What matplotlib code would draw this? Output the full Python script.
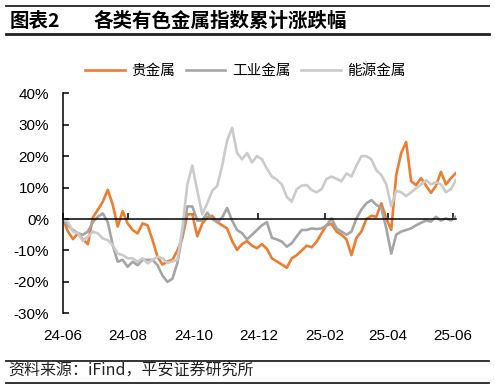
import matplotlib
matplotlib.use("Agg")
import matplotlib.pyplot as plt
import matplotlib.dates as mdates
from matplotlib.lines import Line2D
from matplotlib.ticker import FuncFormatter
import pandas as pd

plt.rcParams['font.family'] = ['Noto Sans CJK SC', 'DejaVu Sans']
plt.rcParams['axes.unicode_minus'] = False

# ---------------- data ----------------
start_date = "2024-06-01"
end_date = "2025-06-04"
n_points = 80

precious = [0, -4, -6.4, -4.6, -6.5, -8, 0.5, 2.9, 5.5, 9.3,
            4.5, -2.4, 2.5, -1.4, -3.5, -4.6, -1.4, -2, -6.7, -12,
            -14.5, -13.5, -13, -10, -6, 1.5, 1.5, -5.5, -1.5, 0.5,
            1, -1, -2, -3, -7, -9.8, -8, -7, -8.5, -9.3,
            -8, -9.5, -12.5, -13.5, -14.5, -15.5, -12.5, -11.5, -10, -8.5,
            -9, -7.2, -4.5, -2, -1.5, -4, -5, -6.5, -11.5, -6,
            -4, 0, 1, 0.7, 5, 0.2, -3.5, 14, 21, 24.5,
            12, 10.8, 13, 10.6, 8.3, 10.6, 15, 11, 13, 14.6]

industrial = [0, -2, -3.5, -4.5, -5, -4, -1, 0.7, 1.8, -1,
              -8.3, -13.6, -13, -15.2, -13.6, -14.7, -13, -13, -13, -14.7,
              -18, -20, -19, -14, -5, 4, 4, -0.5, -0.5, 2,
              0, -1, 0.5, 3.5, -0.5, -3.5, -4.5, -6.5, -5, -3.5,
              -2, -1, -6, -6.5, -7.2, -8.8, -7.7, -5.5, -3.5, -3.5,
              -3, -3.2, -3, -2, 0.2, -3, -4, -5, -4, 0.2,
              3, 5, 6, 4.5, 3.5, -3, -11, -5, -4, -3.5,
              -3, -2, -1.2, -0.5, -0.8, 0.7, -0.5, 0.2, -0.5, 0.7]

energy = [0, -1, -4, -4.5, -7, -5.6, -4, -4.6, -6.2, -6.7,
          -8.3, -11, -11.5, -12.5, -12.5, -13.6, -12.5, -14.1, -13, -12,
          -12.5, -14, -13.5, -13, -3, 11, 17, 9, 1.5, 5,
          9, 10.5, 17, 25, 29, 21, 19, 21, 18, 20,
          19, 16, 13.5, 12.5, 11, 7, 5.5, 9.5, 10.6, 10.8,
          9.2, 8.5, 9.5, 12.8, 13.5, 12.8, 12, 14.5, 13.5, 17,
          20, 20, 19, 15.5, 14, 11, 4, 9, 8.5, 7.3,
          8.5, 9.8, 11, 12.3, 11, 11.7, 11, 8.5, 9.5, 12.4]

series_names = ["贵金属", "工业金属", "能源金属"]
series_colors = ["#ED7D31", "#A5A5A5", "#CBCBCB"]
xtick_dates = ["2024-06-01", "2024-08-01", "2024-10-01", "2024-12-01",
               "2025-02-01", "2025-04-01", "2025-06-01"]
yticks = [-30, -20, -10, 0, 10, 20, 30, 40]

title_num = "图表2"
title_text = "各类有色金属指数累计涨跌幅"
source_text = "资料来源：iFind，平安证券研究所"

# ---------------- figure ----------------
dates = pd.date_range(start_date, end_date, periods=n_points)
fig = plt.figure(figsize=(4.95, 3.9), dpi=100)
ax = fig.add_axes([0.1273, 0.1967, 0.921 - 0.1273, 0.7608 - 0.1967])

for vals, name, col in zip([precious, industrial, energy], series_names, series_colors):
    ax.plot(dates, vals, color=col, lw=1.9, label=name, solid_joinstyle='round')

ax.set_ylim(-30, 40)
ax.set_xlim(pd.Timestamp(start_date), pd.Timestamp(end_date))
ax.set_yticks(yticks)
ax.yaxis.set_major_formatter(FuncFormatter(lambda v, p: f"{int(v)}%"))
ax.tick_params(axis='y', direction='in', length=4, width=1.1, pad=10,
               labelsize=11, labelfontfamily='Liberation Sans')

for s in ['top', 'right']:
    ax.spines[s].set_visible(False)
ax.spines['left'].set_linewidth(1.1)
ax.spines['bottom'].set_position(('data', 0))
ax.spines['bottom'].set_linewidth(1.1)
xt = [pd.Timestamp(d) for d in xtick_dates]
ax.set_xticks(xt)
ax.tick_params(axis='x', direction='in', length=4, width=1.1, labelbottom=False)

sec = ax.secondary_xaxis('bottom')
sec.set_xticks(xt)
sec.xaxis.set_major_formatter(mdates.DateFormatter('%y-%m'))
sec.spines['bottom'].set_visible(False)
sec.tick_params(axis='x', length=0, pad=11, labelsize=11, labelfontfamily='Liberation Sans')

fig.legend(loc='center', bbox_to_anchor=(0.496, 0.818), ncol=3, frameon=False,
           fontsize=10.5, handlelength=2.7, handletextpad=0.45, columnspacing=0.75)

# title and source
fig.text(10 / 495, 1 - 21.5 / 390, title_num, fontsize=14, fontweight='bold', va='center', ha='left')
fig.text(93 / 495, 1 - 21.5 / 390, title_text, fontsize=14, fontweight='bold', va='center', ha='left')
fig.text(8 / 495, 1 - 371 / 390, source_text, fontsize=11.5, style='italic', va='center', ha='left',
         color='#222222')

for yy, lw in [(6, 1.3), (34, 2.0), (361, 1.3), (383, 1.3)]:
    fig.add_artist(Line2D([6 / 495, 489 / 495], [1 - yy / 390, 1 - yy / 390],
                          transform=fig.transFigure, color='#222222', lw=lw))

fig.savefig("out.png", dpi=100)
